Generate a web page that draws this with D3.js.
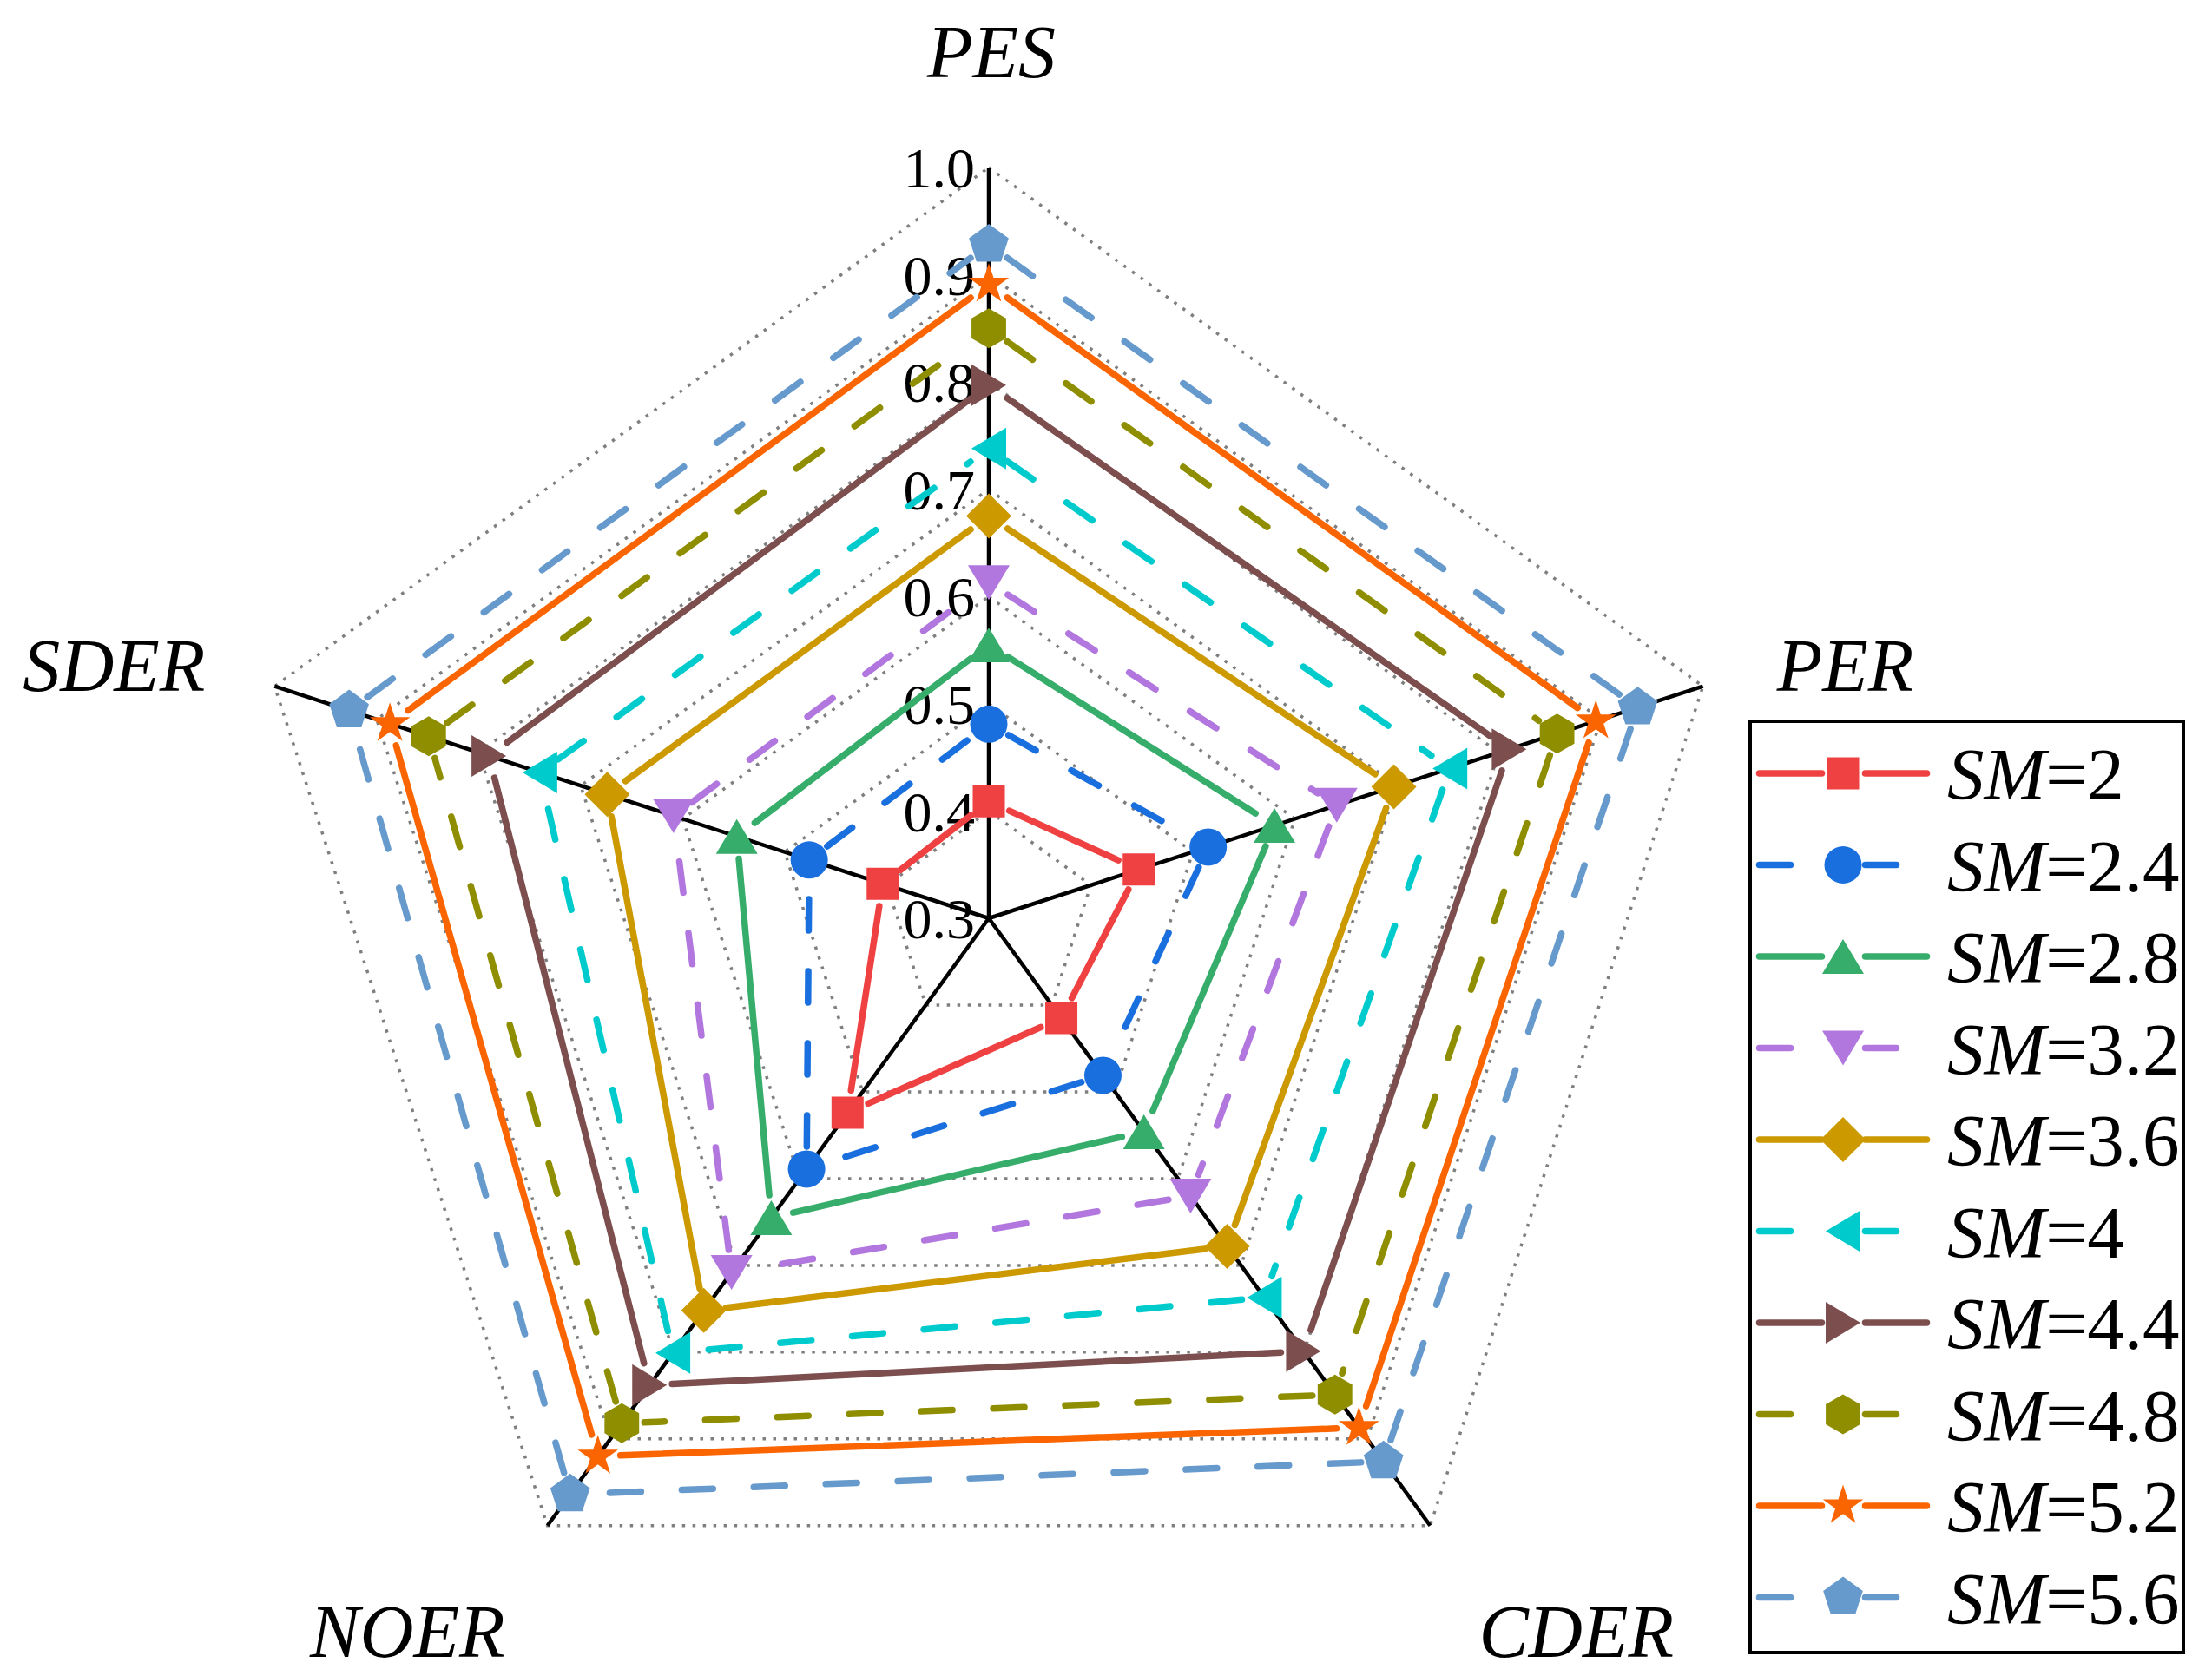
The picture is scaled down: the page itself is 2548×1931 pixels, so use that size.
<!DOCTYPE html>
<html lang="en">
<head>
<meta charset="UTF-8">
<title>SM radar</title>
<script src="https://cdn.jsdelivr.net/npm/d3@7"></script>
<style>
  html, body { margin: 0; padding: 0; background: #fff; }
  svg { display: block; }
  text { font-family: "Liberation Serif", "Times New Roman", serif; fill: #000; }
</style>
</head>
<body>
<svg id="chart" width="2548" height="1931"></svg>
<script>
// axes of the radar, clockwise from the top
const axes = ["PES", "PER", "CDER", "NOER", "SDER"];
const smValues = ["2", "2.4", "2.8", "3.2", "3.6", "4", "4.4", "4.8", "5.2", "5.6"];

// values per axis, one entry per SM series
const pes  = [0.409, 0.481, 0.555, 0.613, 0.675, 0.738, 0.797, 0.850, 0.891, 0.928];
const per  = [0.447, 0.515, 0.580, 0.641, 0.697, 0.752, 0.810, 0.857, 0.895, 0.936];
const cder = [0.415, 0.481, 0.546, 0.620, 0.678, 0.737, 0.799, 0.849, 0.887, 0.926];
const noer = [0.524, 0.589, 0.645, 0.708, 0.752, 0.801, 0.838, 0.882, 0.920, 0.964];
const sder = [0.404, 0.476, 0.547, 0.609, 0.674, 0.740, 0.790, 0.849, 0.887, 0.927];

const ticks = [0.3, 0.4, 0.5, 0.6, 0.7, 0.8, 0.9, 1.0];
const tickLabels = ["0.3", "0.4", "0.5", "0.6", "0.7", "0.8", "0.9", "1.0"];

const colors = ["#EF4141", "#1A6FDF", "#37AD6B", "#B177DE", "#CC9900",
                "#00CBCC", "#7D4E4E", "#8E8E00", "#FB6501", "#6699CC"];
const dashed = [false, true, false, true, false, true, false, true, false, true];
const shapes = ["square", "circle", "triUp", "triDown", "diamond",
                "triLeft", "triRight", "hexagon", "star", "pentagon"];

const svg = d3.select("#chart");
const cx = 1139, cy = 1058, R = 865;
const r = d3.scaleLinear().domain([0.3, 1.0]).range([0, R]);
const ang = d3.scaleLinear().domain([0, axes.length]).range([-Math.PI / 2, 1.5 * Math.PI]);

function pt(i, v) {
  const a = ang(i), rr = r(v);
  return [cx + rr * Math.cos(a), cy + rr * Math.sin(a)];
}

function poly(pts) {
  return "M" + pts.map(p => p[0].toFixed(2) + "," + p[1].toFixed(2)).join("L") + "Z";
}
function regular(n, rad, start) {
  const out = [];
  for (let k = 0; k < n; k++) {
    const a = start + k * 2 * Math.PI / n;
    out.push([rad * Math.cos(a), rad * Math.sin(a)]);
  }
  return out;
}
function markerPath(shape) {
  switch (shape) {
    case "square": return poly([[-18.5, -18.5], [18.5, -18.5], [18.5, 18.5], [-18.5, 18.5]]);
    case "circle": return d3.symbol(d3.symbolCircle, Math.PI * 21.5 * 21.5)();
    case "triUp": return poly([[0, -20], [24, 20], [-24, 20]]);
    case "triDown": return poly([[0, 20], [24, -20], [-24, -20]]);
    case "diamond": return poly([[0, -26], [26, 0], [0, 26], [-26, 0]]);
    case "triLeft": return poly([[-20, 0], [20, -24], [20, 24]]);
    case "triRight": return poly([[20, 0], [-20, -24], [-20, 24]]);
    case "hexagon": return poly(regular(6, 23, -Math.PI / 2));
    case "pentagon": return poly(regular(5, 24, -Math.PI / 2));
    case "star": {
      const pts = [];
      for (let k = 0; k < 10; k++) {
        const a = -Math.PI / 2 + k * Math.PI / 5;
        const rad = k % 2 === 0 ? 24.5 : 24.5 * 0.382;
        pts.push([rad * Math.cos(a), rad * Math.sin(a)]);
      }
      return poly(pts);
    }
  }
}

// grid polygons (dotted)
const grid = svg.append("g");
ticks.slice(1).forEach(t => {
  grid.append("path")
    .attr("d", poly(axes.map((a, i) => pt(i, t))))
    .attr("fill", "none")
    .attr("stroke", "#7f7f7f")
    .attr("stroke-width", 3.5)
    .attr("stroke-dasharray", "3.5 8.5");
});

// spokes
svg.append("g").selectAll("line")
  .data(axes)
  .enter()
  .append("line")
  .attr("x1", cx).attr("y1", cy)
  .attr("x2", (d, i) => pt(i, 1.0)[0])
  .attr("y2", (d, i) => pt(i, 1.0)[1])
  .attr("stroke", "#000")
  .attr("stroke-width", 4.5);

// tick labels along the top axis
svg.append("g").selectAll("text")
  .data(ticks)
  .enter()
  .append("text")
  .attr("x", cx - 16)
  .attr("y", d => pt(0, d)[1])
  .attr("dy", "0.35em")
  .attr("text-anchor", "end")
  .attr("font-size", 66)
  .text((d, i) => tickLabels[i]);

// axis titles, offset from the end of each spoke
const labelOffsets = [[3, -104, "middle"], [85, 5, "start"], [56, 151, "start"], [-49, 151, "end"], [-80, 5, "end"]];
svg.append("g").selectAll("text")
  .data(axes)
  .enter()
  .append("text")
  .attr("x", (d, i) => pt(i, 1.0)[0] + labelOffsets[i][0])
  .attr("y", (d, i) => pt(i, 1.0)[1] + labelOffsets[i][1])
  .attr("text-anchor", (d, i) => labelOffsets[i][2])
  .attr("font-size", 86)
  .attr("font-style", "italic")
  .text(d => d);

// series
const gap = 26;
const series = smValues.map((sm, s) => ({
  sm: sm,
  values: [pes[s], per[s], cder[s], noer[s], sder[s]]
}));

series.forEach((ser, s) => {
  const g = svg.append("g");
  const pts = ser.values.map((v, i) => pt(i, v));
  const segs = pts.map((p, i) => {
    const q = pts[(i + 1) % pts.length];
    const dx = q[0] - p[0], dy = q[1] - p[1];
    const len = Math.hypot(dx, dy);
    const ux = dx / len, uy = dy / len;
    return [[p[0] + ux * gap, p[1] + uy * gap], [q[0] - ux * gap, q[1] - uy * gap]];
  });
  g.selectAll("path.seg")
    .data(segs)
    .enter()
    .append("path")
    .attr("class", "seg")
    .attr("d", d => d3.line()(d))
    .attr("fill", "none")
    .attr("stroke", colors[s])
    .attr("stroke-width", 7.5)
    .attr("stroke-linecap", "round")
    .attr("stroke-dasharray", dashed[s] ? "36 47" : null);
  g.selectAll("path.mk")
    .data(pts)
    .enter()
    .append("path")
    .attr("class", "mk")
    .attr("d", markerPath(shapes[s]))
    .attr("transform", d => `translate(${d[0]},${d[1]})`)
    .attr("fill", colors[s]);
});

// legend
const lg = svg.append("g");
lg.append("rect")
  .attr("x", 2016).attr("y", 831)
  .attr("width", 499).attr("height", 1073)
  .attr("fill", "#fff")
  .attr("stroke", "#000")
  .attr("stroke-width", 4);

const rowY = d3.scaleLinear().domain([0, 1]).range([891, 996.5]);
const items = lg.selectAll("g.item")
  .data(series)
  .enter()
  .append("g")
  .attr("class", "item")
  .attr("transform", (d, i) => `translate(0,${rowY(i)})`);

[[2026.5, 2098.5], [2148.5, 2219.5]].forEach(seg => {
  items.append("line")
    .attr("x1", seg[0]).attr("x2", seg[1])
    .attr("y1", 0).attr("y2", 0)
    .attr("stroke", (d, i) => colors[i])
    .attr("stroke-width", 7.5)
    .attr("stroke-linecap", "round")
    .attr("stroke-dasharray", (d, i) => dashed[i] ? "36 47" : null);
});
items.append("path")
  .attr("d", (d, i) => markerPath(shapes[i]))
  .attr("transform", "translate(2123,0)")
  .attr("fill", (d, i) => colors[i]);

const lt = items.append("text")
  .attr("x", 2243)
  .attr("y", 30)
  .attr("font-size", 85);
lt.append("tspan").attr("font-style", "italic").text("SM");
lt.append("tspan").text(d => "=" + d.sm);
</script>
</body>
</html>
